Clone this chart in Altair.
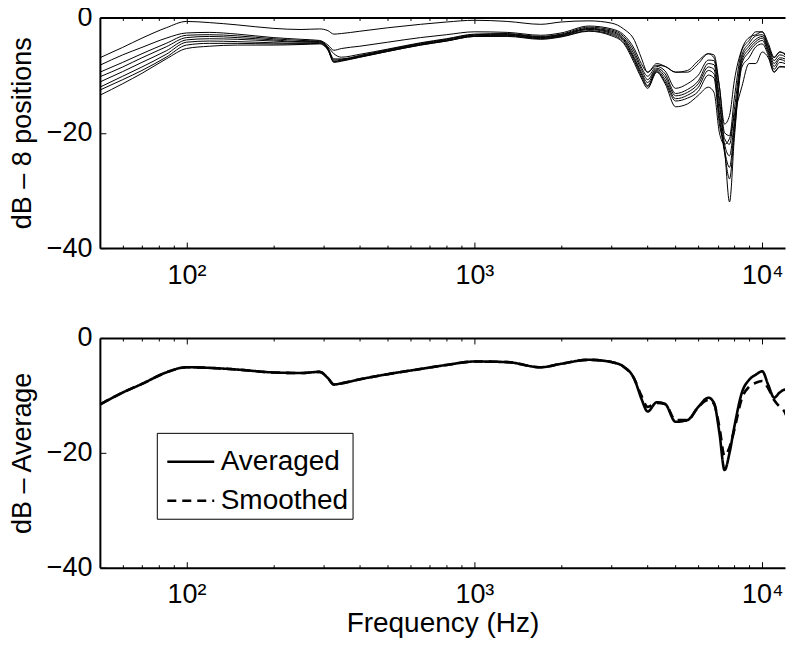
import altair as alt
import pandas as pd

# ---------------- data ----------------
freq = [50, 60, 70, 85, 100, 120, 150, 200, 250, 290, 310, 325, 345, 400, 500, 650,
        800, 1000, 1300, 1700, 2000, 2500, 3000, 3300, 3600, 3800, 4000, 4300, 4600,
        5000, 5500, 6000, 6500, 6800, 7100, 7400, 7700, 8000, 8500, 9000, 9500,
        10000, 10500, 11000, 11500, 12000, 12500, 13000]

pos_1 = [-7.0, -5.2, -3.6, -1.8, -0.7, -0.9, -1.3, -1.9, -2.1, -2.0, -2.3, -2.9, -2.8, -2.4,
         -1.8, -1.2, -0.8, -0.5, -0.7, -1.2, -0.8, -0.6, -1.0, -2.0, -4.0, -7.0, -9.5, -8.0,
         -8.5, -9.5, -9.2, -7.5, -6.3, -7.0, -12.0, -18.5, -17.0, -11.0, -5.5, -3.5, -3.0,
         -2.5, -5.0, -7.0, -6.0, -6.5, -8.0, -10.0]
pos_2 = [-8.3, -6.5, -5.2, -3.6, -2.7, -2.6, -2.9, -3.5, -3.8, -4.0, -4.8, -5.7, -5.4, -5.0,
         -4.3, -3.5, -3.0, -2.5, -2.6, -3.1, -2.7, -1.5, -2.0, -3.0, -5.5, -8.0, -9.5, -8.3,
         -8.5, -9.5, -9.5, -8.0, -6.3, -6.5, -12.0, -20.0, -20.5, -14.0, -5.7, -4.0, -2.5,
         -2.5, -4.5, -6.9, -6.0, -6.3, -7.4, -9.0]
pos_3 = [-9.5, -7.8, -6.3, -4.5, -3.1, -3.0, -3.2, -3.7, -4.0, -4.1, -5.1, -6.3, -6.9, -6.4,
         -5.5, -4.4, -3.7, -2.9, -2.8, -3.3, -2.9, -1.7, -2.2, -3.3, -6.0, -8.6, -10.2, -8.5,
         -9.3, -12.3, -11.5, -10.0, -7.4, -7.5, -14.0, -21.0, -22.0, -16.0, -6.5, -4.5, -3.2,
         -3.0, -5.0, -7.5, -6.5, -6.8, -8.5, -10.5]
pos_4 = [-10.3, -8.6, -7.0, -5.1, -3.5, -3.3, -3.5, -3.9, -4.2, -4.2, -5.3, -7.2, -7.2, -6.6,
         -5.6, -4.5, -3.8, -3.0, -2.9, -3.4, -3.0, -1.9, -2.4, -3.6, -6.5, -9.0, -10.8, -8.8,
         -9.8, -13.2, -12.5, -11.0, -8.0, -8.2, -15.0, -22.0, -24.0, -18.0, -7.0, -5.0, -3.8,
         -3.3, -5.5, -8.0, -7.0, -7.2, -9.5, -11.5]
pos_5 = [-11.2, -9.4, -7.8, -5.8, -3.9, -3.7, -3.8, -4.1, -4.3, -4.3, -5.4, -7.4, -7.3, -6.7,
         -5.7, -4.6, -3.9, -3.1, -3.0, -3.5, -3.1, -2.0, -2.6, -3.8, -7.0, -9.5, -11.3, -9.0,
         -10.3, -13.6, -13.0, -11.5, -8.6, -9.0, -16.5, -23.0, -26.0, -19.0, -7.5, -5.5, -4.2,
         -3.6, -5.8, -8.5, -7.3, -7.6, -10.0, -12.5]
pos_6 = [-12.1, -10.2, -8.6, -6.4, -4.3, -4.1, -4.2, -4.4, -4.5, -4.4, -5.5, -7.6, -7.4, -6.8,
         -5.8, -4.7, -4.0, -3.2, -3.1, -3.6, -3.2, -2.1, -2.8, -4.0, -7.3, -9.8, -11.8, -9.2,
         -10.8, -14.1, -13.5, -12.1, -9.2, -9.8, -17.5, -23.5, -28.0, -20.0, -8.0, -6.0, -4.6,
         -4.0, -6.2, -9.0, -7.8, -8.0, -11.0, -13.5]
pos_7 = [-12.6, -10.8, -9.2, -6.9, -4.8, -4.5, -4.5, -4.6, -4.6, -4.5, -5.6, -7.7, -7.5, -6.9,
         -5.9, -4.8, -4.1, -3.3, -3.2, -3.7, -3.3, -2.3, -3.0, -4.3, -7.6, -10.2, -12.0, -9.4,
         -11.2, -14.5, -14.0, -12.8, -10.0, -10.5, -18.5, -23.0, -32.0, -21.0, -8.6, -7.0, -5.1,
         -4.6, -6.6, -9.5, -8.5, -8.6, -12.0, -14.5]
pos_8 = [-13.5, -11.5, -9.7, -7.2, -5.4, -5.0, -4.8, -4.8, -4.7, -4.6, -5.7, -7.8, -7.6, -6.9,
         -5.9, -4.8, -4.1, -3.3, -3.3, -3.8, -3.4, -2.4, -3.2, -4.5, -8.0, -10.5, -12.3, -9.5,
         -11.5, -15.5, -15.0, -13.5, -12.1, -13.0, -20.0, -22.0, -21.0, -17.0, -12.0, -8.0, -8.0,
         -6.0, -7.0, -9.5, -8.6, -8.6, -13.2, -15.0]

averaged = [-11.6, -9.5, -8.0, -6.0, -5.1, -5.2, -5.5, -6.0, -6.1, -5.9, -7.0, -8.1, -7.9, -7.2,
            -6.3, -5.4, -4.7, -4.1, -4.2, -5.1, -4.5, -3.8, -4.2, -5.0, -7.2, -10.5, -12.8, -11.2,
            -11.5, -14.6, -14.3, -12.0, -10.4, -11.3, -16.5, -23.0, -20.0, -15.5, -9.5, -7.3, -6.4,
            -5.8, -8.2, -10.4, -9.5, -9.0, -11.5, -14.0]
smoothed = [-11.6, -9.5, -8.0, -6.0, -5.1, -5.2, -5.5, -6.0, -6.1, -5.9, -7.0, -8.1, -7.9, -7.2,
            -6.3, -5.4, -4.7, -4.1, -4.2, -5.1, -4.5, -3.8, -4.2, -5.0, -7.2, -10.0, -12.0, -11.3,
            -11.5, -14.3, -14.3, -12.0, -10.8, -11.5, -15.5, -20.5, -19.0, -16.0, -10.5, -8.5, -7.8,
            -7.5, -8.8, -10.8, -12.0, -13.0, -15.5, -17.0]

pos_names = ["P1", "P2", "P3", "P4", "P5", "P6", "P7", "P8"]
pos_values = [pos_1, pos_2, pos_3, pos_4, pos_5, pos_6, pos_7, pos_8]
series_names = ["Averaged", "Smoothed"]
series_values = [averaged, smoothed]

x_domain = [50, 12000]
y_domain = [-40, 0]
major_ticks = [100, 1000, 10000]
minor_ticks = [60, 70, 80, 90, 200, 300, 400, 500, 600, 700, 800, 900,
               2000, 3000, 4000, 5000, 6000, 7000, 8000, 9000]
y_ticks = [-40, -20, 0]

# ---------------- tables ----------------
top_df = pd.DataFrame([{"freq": f, "pos": n, "db": v}
                       for n, arr in zip(pos_names, pos_values) for f, v in zip(freq, arr)])
bot_df = pd.DataFrame([{"freq": f, "series": n, "db": v}
                       for n, arr in zip(series_names, series_values) for f, v in zip(freq, arr)])
frame_df = pd.DataFrame({"freq": x_domain, "db": y_domain})

FONT = "Liberation Sans"
FS = 27
FS_BIG = 28
W = 686
XSCALE = alt.Scale(type="log", domain=x_domain, nice=False)
YSCALE = alt.Scale(domain=y_domain, nice=False, zero=False)
X_LABELS = "datum.value == 100 ? '10\u00b2' : datum.value == 1000 ? '10\u00b3' : '10\u2074'"


def label_axes(ytitle, xtitle):
    xa = alt.Axis(orient="bottom", values=major_ticks, labelExpr=X_LABELS, ticks=False,
                  tickSize=0, domain=True, domainColor="black", domainWidth=2, grid=False,
                  labelFont=FONT, labelFontSize=FS,
                  labelColor="black", labelPadding=14, labelFlush=False, labelOverlap=False,
                  title=xtitle if xtitle else None, titleFont=FONT, titleFontSize=FS_BIG,
                  titleFontWeight="normal", titleColor="black", titlePadding=2)
    ya = alt.Axis(orient="left", values=y_ticks, ticks=False, tickSize=0, domain=True,
                  domainColor="black", domainWidth=2,
                  grid=False, labelFont=FONT, labelFontSize=FS, labelColor="black",
                  labelPadding=8, labelExpr="replace(datum.label, '-', '\u2212')",
                  labelFlush=False, labelOverlap=False,
                  title=ytitle, titleFont=FONT, titleFontSize=FS, titleFontWeight="normal",
                  titleColor="black", titlePadding=10)
    return xa, ya


def tick_axis(orient, values, size):
    return alt.Axis(orient=orient, values=values, labels=False, domain=False, grid=False,
                    ticks=True, tickSize=size, offset=-size, tickColor="black",
                    tickWidth=1, title=None)


def tick_layers():
    base = alt.Chart(frame_df).mark_point(opacity=0)
    top_border = alt.Axis(orient="top", values=major_ticks, labels=False, ticks=False,
                          domain=True, domainColor="black", domainWidth=2, grid=False,
                          title=None)
    layers = [
        base.encode(x=alt.X("freq:Q", scale=XSCALE, axis=tick_axis("bottom", major_ticks, 6)),
                    y=alt.Y("db:Q", scale=YSCALE, axis=tick_axis("left", y_ticks, 6))),
        base.encode(x=alt.X("freq:Q", scale=XSCALE, axis=tick_axis("bottom", minor_ticks, 3)),
                    y=alt.Y("db:Q", scale=YSCALE, axis=None)),
        base.encode(x=alt.X("freq:Q", scale=XSCALE, axis=tick_axis("top", major_ticks, 6)),
                    y=alt.Y("db:Q", scale=YSCALE, axis=None)),
        base.encode(x=alt.X("freq:Q", scale=XSCALE, axis=tick_axis("top", minor_ticks, 3)),
                    y=alt.Y("db:Q", scale=YSCALE, axis=None)),
        base.encode(x=alt.X("freq:Q", scale=XSCALE, axis=top_border),
                    y=alt.Y("db:Q", scale=YSCALE, axis=None)),
    ]
    return layers


# ---------------- top panel ----------------
xa, ya = label_axes("dB \u2013 8 positions", None)
top_lines = alt.Chart(top_df).mark_line(
    color="black", strokeWidth=1, clip=True, interpolate="monotone").encode(
    x=alt.X("freq:Q", scale=XSCALE, axis=xa),
    y=alt.Y("db:Q", scale=YSCALE, axis=ya),
    detail="pos:N",
)
top = alt.layer(top_lines, *tick_layers()).resolve_axis(
    x="independent", y="independent").properties(width=W, height=231)

# ---------------- bottom panel ----------------
xb, yb = label_axes("dB \u2013 Average", "Frequency (Hz)")
bot_lines = alt.Chart(bot_df).mark_line(
    color="black", strokeWidth=2.6, clip=True, interpolate="monotone").encode(
    x=alt.X("freq:Q", scale=XSCALE, axis=xb),
    y=alt.Y("db:Q", scale=YSCALE, axis=yb),
    strokeDash=alt.StrokeDash(
        "series:N",
        scale=alt.Scale(domain=series_names, range=[[1, 0], [9, 6]]),
        legend=alt.Legend(title=None, orient="none", legendX=57, legendY=416,
                          strokeColor="black", fillColor="white", padding=4,
                          cornerRadius=0, labelFont=FONT, labelFontSize=FS_BIG,
                          labelColor="black", symbolType="stroke", symbolSize=2209,
                          symbolStrokeWidth=2.5, symbolStrokeColor="black",
                          symbolOffset=5, labelOffset=5, rowPadding=-9),
    ),
)
bottom = alt.layer(bot_lines, *tick_layers()).resolve_axis(
    x="independent", y="independent").properties(width=W, height=230)

chart = alt.vconcat(top, bottom, spacing=90, bounds="flush").properties(
    padding={"left": 0, "top": -5, "right": -2, "bottom": 0},
    background="white",
).configure_view(stroke=None)

chart.save("out.html", embed_options={"renderer": "svg", "actions": False})
